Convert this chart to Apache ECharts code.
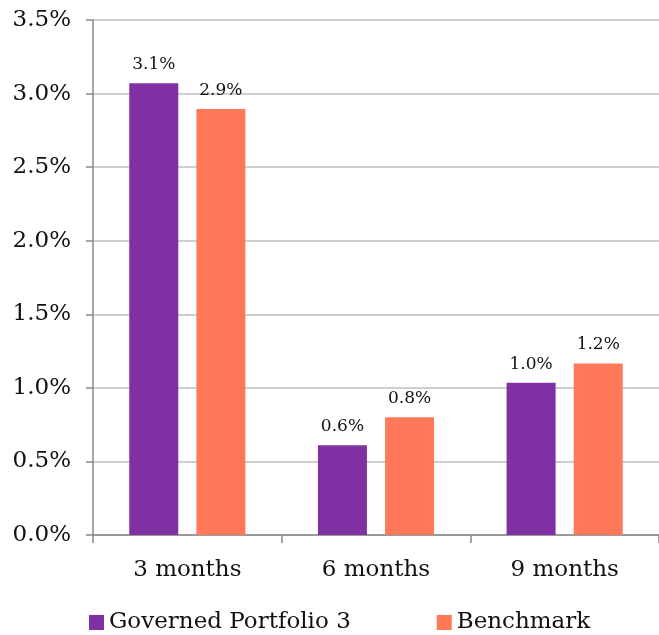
<!DOCTYPE html>
<html>
<head>
<meta charset="utf-8">
<script src="https://cdn.jsdelivr.net/npm/echarts@6/dist/echarts.min.js"></script>
<style>
  html, body { margin: 0; padding: 0; background: #fff; }
  #chart { width: 659px; height: 635px; }
</style>
</head>
<body>
<div id="chart"></div>
<script>
  const FONT = '"DejaVu Serif", Georgia, serif'
  const categories = ['3 months', '6 months', '9 months']
  const portfolio = [3.07, 0.61, 1.035]
  const benchmark = [2.895, 0.80, 1.166]
  const COLOR = { portfolio: '#7F30A3', benchmark: '#FF7857', grid: '#BFBFBF', axis: '#888888' }

  const chart = echarts.init(document.getElementById('chart'))

  // 柱状标签，保留一位小数
  function barLabel() {
    return {
      show: true,
      position: 'top',
      distance: 10,
      color: '#111',
      fontSize: 17,
      fontFamily: FONT,
      formatter: p => p.value.toFixed(1) + '%'
    }
  }

  chart.setOption({
    animation: false,
    grid: { left: 93, right: 0, top: 20, bottom: 100, containLabel: false },
    legend: {
      bottom: -4,
      left: 84,
      itemWidth: 15,
      itemHeight: 15,
      itemGap: 86,
      icon: 'rect',
      textStyle: { fontSize: 23, fontFamily: FONT, color: '#111' },
      data: ['Governed Portfolio 3', 'Benchmark']
    },
    xAxis: {
      type: 'category',
      data: categories,
      axisLine: { lineStyle: { color: COLOR.axis, width: 1.5 } },
      axisTick: { show: true, length: 8, lineStyle: { color: COLOR.axis, width: 1.5 } },
      axisLabel: { fontSize: 23, fontFamily: FONT, color: '#111', margin: 24 }
    },
    yAxis: {
      type: 'value',
      min: 0,
      max: 3.5,
      interval: 0.5,
      axisLine: { show: true, lineStyle: { color: COLOR.axis, width: 1.5 } },
      axisTick: { show: true, length: 7, lineStyle: { color: COLOR.axis, width: 1.5 } },
      splitLine: { lineStyle: { color: COLOR.grid, width: 1.5 } },
      axisLabel: {
        fontSize: 23, fontFamily: FONT, color: '#111', margin: 22,
        formatter: v => v.toFixed(1) + '%'
      }
    },
    series: [
      {
        name: 'Governed Portfolio 3',
        type: 'bar',
        data: portfolio,
        barWidth: 49,
        barGap: '37%',
        itemStyle: { color: COLOR.portfolio },
        label: barLabel()
      },
      {
        name: 'Benchmark',
        type: 'bar',
        data: benchmark,
        barWidth: 49,
        itemStyle: { color: COLOR.benchmark },
        label: barLabel()
      }
    ]
  })
</script>
</body>
</html>
